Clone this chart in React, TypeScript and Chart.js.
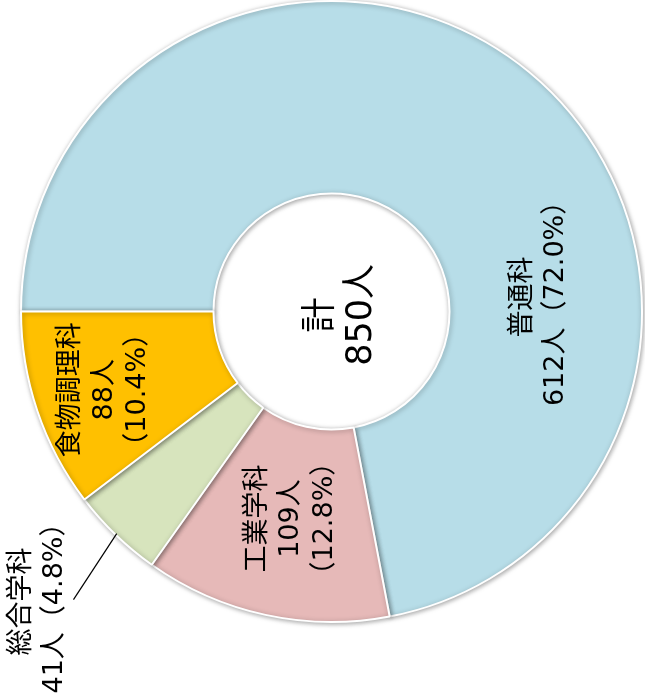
import React, { useEffect, useRef } from "react";
import { Chart, registerables } from "chart.js";

Chart.register(...registerables);

const categories = ["普通科", "工業学科", "総合学科", "食物調理科"];
const counts = [612, 109, 41, 88];
const percents = ["72.0", "12.8", "4.8", "10.4"];
const colors = ["#b7dde8", "#e6b9b8", "#d7e4bd", "#ffc000"];
const totalLabel = ["計", "850人"];

// label block centres, in units of outer radius relative to the chart centre
const labelOffsets = [
  [0.67, -0.047],
  [-0.13, 0.667],
  [-0.944, 0.934],
  [-0.731, 0.252],
];

const labelLines = (i: number): string[] => {
  if (i === 0) return [categories[i], `${counts[i]}人（${percents[i]}%）`];
  if (i === 2) return [categories[i], `${counts[i]}人（${percents[i]}%）`];
  return [categories[i], `${counts[i]}人`, `（${percents[i]}%）`];
};

const FONT_FAMILY = "'DejaVu Sans', 'Noto Sans CJK JP', sans-serif";

const drawRotatedBlock = (
  ctx: CanvasRenderingContext2D,
  x: number,
  y: number,
  lines: string[],
  size: number,
  lh: number
) => {
  ctx.save();
  ctx.translate(x, y);
  ctx.rotate(-Math.PI / 2);
  ctx.font = `${size}px ${FONT_FAMILY}`;
  ctx.fillStyle = "#000";
  ctx.textAlign = "center";
  ctx.textBaseline = "middle";
  lines.forEach((t, k) => {
    ctx.fillText(t, 0, (k - (lines.length - 1) / 2) * lh);
  });
  ctx.restore();
};

const shadowPlugin = {
  id: "arcShadow",
  beforeDatasetsDraw(chart: any) {
    const ctx = chart.ctx;
    ctx.save();
    ctx.shadowColor = "rgba(0,0,0,0.35)";
    ctx.shadowBlur = 5;
    ctx.shadowOffsetX = 1;
    ctx.shadowOffsetY = 1;
  },
  afterDatasetsDraw(chart: any) {
    chart.ctx.restore();
  },
};

const labelPlugin = {
  id: "rotLabels",
  afterDraw(chart: any) {
    const ctx = chart.ctx as CanvasRenderingContext2D;
    const meta = chart.getDatasetMeta(0);
    const arc0 = meta.data[0];
    const cx = arc0.x;
    const cy = arc0.y;
    const R = arc0.outerRadius;
    meta.data.forEach((_: any, i: number) => {
      const [ox, oy] = labelOffsets[i];
      drawRotatedBlock(ctx, cx + ox * R, cy + oy * R, labelLines(i), 27, 33.5);
    });
    // leader line for 総合学科
    const g = meta.data[2];
    const mid = (g.startAngle + g.endAngle) / 2;
    ctx.save();
    ctx.strokeStyle = "#000";
    ctx.lineWidth = 1.2;
    ctx.beginPath();
    ctx.moveTo(cx - 0.831 * R, cy + 0.928 * R);
    ctx.lineTo(cx + Math.cos(mid) * R * 0.995, cy + Math.sin(mid) * R * 0.995);
    ctx.stroke();
    ctx.restore();
    // total in the centre
    drawRotatedBlock(ctx, cx + 0.034 * R, cy + 0.011 * R, totalLabel, 35, 40);
  },
};

export default function App() {
  const ref = useRef<HTMLCanvasElement>(null);
  useEffect(() => {
    document.body.style.margin = "0";
    const chart = new Chart(ref.current!, {
      type: "doughnut",
      data: {
        labels: categories,
        datasets: [
          {
            data: counts,
            backgroundColor: colors,
            borderColor: "#ffffff",
            borderWidth: 2,
          },
        ],
      },
      options: {
        animation: false,
        responsive: false,
        rotation: -90,
        cutout: "38%",
        layout: { padding: { left: 20, top: 0, right: 2, bottom: 74 } },
        plugins: {
          legend: { display: false },
          tooltip: { enabled: false },
        },
      },
      plugins: [shadowPlugin, labelPlugin],
    });
    return () => chart.destroy();
  }, []);
  return (
    <div style={{ width: 645, height: 697, background: "#fff" }}>
      <canvas ref={ref} width={645} height={697} />
    </div>
  );
}
